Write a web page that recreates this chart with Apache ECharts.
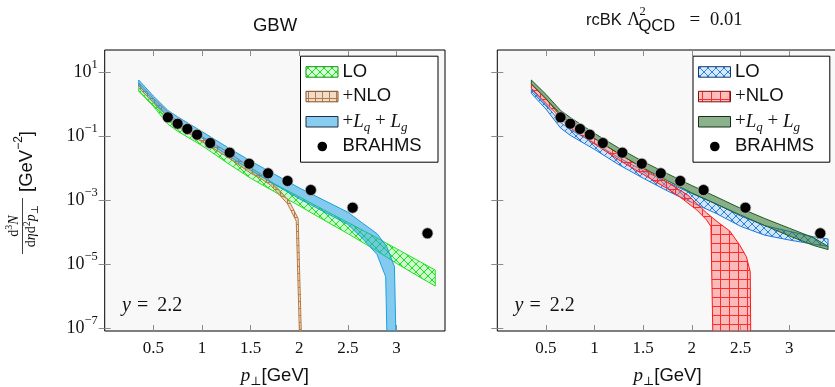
<!DOCTYPE html>
<html>
<head>
<meta charset="utf-8">
<script src="https://cdn.jsdelivr.net/npm/echarts@6/dist/echarts.min.js"></script>
<style>
html,body{margin:0;padding:0;background:#fff}
#chart{width:835px;height:387px}
</style>
</head>
<body>
<div id="chart"></div>
<script>
// ---- BRAHMS data points (same in both panels) ----
const brahmsPt = [0.65, 0.75, 0.85, 0.95, 1.085, 1.285, 1.485, 1.68, 1.88, 2.12, 2.55, 3.32];
const brahmsYield = [0.384, 0.242, 0.166, 0.110, 0.0604, 0.0301, 0.0136, 0.00682, 0.00393, 0.00205, 5.74e-4, 9.1e-5];

// ---- GBW bands ----
const gbwLoPt = [0.35, 0.5, 0.65, 0.75, 1.0, 1.25, 1.5, 1.75, 2.0, 2.25, 2.5, 2.75, 3.0, 3.25, 3.4];
const gbwLoUpper = [3.16, 1.12, 3.16e-1, 1.91e-1, 7.08e-2, 2.34e-2, 7.94e-3, 3.16e-3, 1.26e-3, 5.01e-4, 2.0e-4, 7.94e-5, 3.02e-5, 1.15e-5, 6.46e-6];
const gbwLoLower = [2.51, 8.51e-1, 2.34e-1, 1.41e-1, 5.01e-2, 1.51e-2, 4.79e-3, 1.78e-3, 6.61e-4, 2.40e-4, 8.91e-5, 3.16e-5, 1.05e-5, 3.72e-6, 2.04e-6];

const gbwNloUpperPt = [0.35, 0.5, 0.75, 1.0, 1.25, 1.5, 1.6, 1.7, 1.8, 1.9, 1.99, 2.03];
const gbwNloUpper = [4.57, 1.51, 2.82e-1, 9.55e-2, 3.39e-2, 1.05e-2, 6.61e-3, 3.98e-3, 2.0e-3, 8.91e-4, 2.63e-4, 1e-8];
const gbwNloLowerPt = [0.35, 0.5, 0.75, 1.0, 1.25, 1.5, 1.6, 1.7, 1.8, 1.88, 1.97, 2.01];
const gbwNloLower = [3.31, 1.10, 2.0e-1, 6.61e-2, 2.34e-2, 6.92e-3, 4.79e-3, 3.02e-3, 1.41e-3, 7.59e-4, 2.19e-4, 1e-8];

const gbwLqUpperPt = [0.35, 0.5, 0.65, 0.75, 1.0, 1.25, 1.5, 1.75, 2.0, 2.25, 2.5, 2.65, 2.8, 2.9, 2.98, 3.0];
const gbwLqUpper = [5.62, 1.78, 6.31e-1, 3.98e-1, 1.38e-1, 4.68e-2, 1.66e-2, 6.31e-3, 2.40e-3, 1.0e-3, 4.17e-4, 1.91e-4, 8.91e-5, 3.55e-5, 8.32e-6, 1e-8];
const gbwLqLowerPt = [0.35, 0.5, 0.65, 0.75, 1.0, 1.25, 1.5, 1.75, 2.0, 2.25, 2.5, 2.65, 2.8, 2.89, 2.908];
const gbwLqLower = [3.80, 1.26, 3.98e-1, 2.51e-1, 8.71e-2, 2.63e-2, 8.71e-3, 3.02e-3, 1.10e-3, 4.37e-4, 1.74e-4, 6.31e-5, 2.0e-5, 3.98e-6, 1e-8];

// ---- rcBK bands ----
const bkLoPt = [0.35, 0.5, 0.65, 0.75, 1.0, 1.25, 1.5, 1.75, 2.0, 2.25, 2.5, 2.75, 3.0, 3.25, 3.4];
const bkLoUpper = [2.88, 9.55e-1, 2.63e-1, 1.58e-1, 6.03e-2, 2.09e-2, 8.32e-3, 3.55e-3, 1.58e-3, 7.59e-4, 3.16e-4, 1.58e-4, 1.05e-4, 7.08e-5, 6.03e-5];
const bkLoLower = [2.14, 6.92e-1, 1.78e-1, 1.05e-1, 3.80e-2, 1.26e-2, 4.79e-3, 1.91e-3, 8.32e-4, 3.80e-4, 1.51e-4, 7.94e-5, 5.62e-5, 4.17e-5, 3.55e-5];

const bkNloUpperPt = [0.35, 0.5, 0.75, 1.0, 1.25, 1.5, 1.75, 1.96, 2.15, 2.27, 2.39, 2.49, 2.56, 2.60, 2.607];
const bkNloUpper = [4.17, 1.41, 2.51e-1, 8.32e-2, 2.82e-2, 9.55e-3, 3.55e-3, 1.41e-3, 3.98e-4, 2.0e-4, 1.07e-4, 3.98e-5, 1.70e-5, 5.75e-6, 1e-8];
const bkNloLowerPt = [0.35, 0.5, 0.75, 1.0, 1.25, 1.5, 1.75, 1.875, 2.05, 2.15, 2.196, 2.22];
const bkNloLower = [3.09, 1.05, 1.78e-1, 5.62e-2, 1.78e-2, 6.31e-3, 2.24e-3, 1.26e-3, 4.90e-4, 2.40e-4, 1.48e-4, 1e-8];

const bkLqPt = [0.35, 0.5, 0.65, 0.75, 1.0, 1.25, 1.5, 1.75, 2.0, 2.25, 2.5, 2.75, 3.0, 3.25, 3.4];
const bkLqUpper = [5.62, 2.0, 6.31e-1, 3.80e-1, 1.20e-1, 4.17e-2, 1.58e-2, 6.61e-3, 2.82e-3, 1.26e-3, 5.50e-4, 2.63e-4, 1.32e-4, 6.61e-5, 3.55e-5];
const bkLqLower = [4.27, 1.48, 4.17e-1, 2.63e-1, 8.32e-2, 2.75e-2, 1.0e-2, 3.98e-3, 1.66e-3, 7.41e-4, 3.39e-4, 1.58e-4, 7.59e-5, 3.80e-5, 2.82e-5];

// ---- axis ticks ----
const xTicks = [0.5, 1, 1.5, 2, 2.5, 3];
const yTicks = [1e-7, 1e-5, 1e-3, 1e-1, 1e1];

const SERIF = "'Liberation Serif','DejaVu Serif',serif";
const SANS = "'Liberation Sans','DejaVu Sans',sans-serif";
const INK = '#111';

const Y_MIN = Math.pow(10, -7.094);
const Y_MAX = Math.pow(10, 1.6875);

// ---- fill patterns ----
function tile(size, bg, line, kind) {
  const c = document.createElement('canvas');
  c.width = c.height = size;
  const g = c.getContext('2d');
  g.fillStyle = bg;
  g.fillRect(0, 0, size, size);
  g.strokeStyle = line;
  g.lineWidth = 1;
  g.beginPath();
  if (kind === 'cross') {
    g.moveTo(0, 0); g.lineTo(size, size);
    g.moveTo(0, size); g.lineTo(size, 0);
  } else {
    g.moveTo(0.5, 0); g.lineTo(0.5, size);
    g.moveTo(0, 0.5); g.lineTo(size, 0.5);
  }
  g.stroke();
  return { image: c, repeat: 'repeat' };
}

const STY = {
  gbwLo:  { fill: tile(8, 'rgba(60,255,60,0.22)', '#22e022', 'cross'), stroke: '#22e022', key: '#109010' },
  gbwNlo: { fill: tile(7, 'rgba(225,185,145,0.5)', '#b87a45', 'grid'), stroke: '#b87a45', key: '#7a5530' },
  gbwLq:  { fill: 'rgba(25,160,228,0.52)', stroke: '#1aa0e0', key: '#1f2f3f' },
  bkLo:   { fill: tile(8, 'rgba(90,170,255,0.25)', '#2a80dc', 'cross'), stroke: '#1f78d8', key: '#163a66' },
  bkNlo:  { fill: tile(9, 'rgba(255,110,110,0.45)', '#ff2a2a', 'grid'), stroke: '#ff1a1a', key: '#7a1010' },
  bkLq:   { fill: 'rgba(45,115,45,0.55)', stroke: '#1b5e20', key: '#14301a' }
};

function polygonPoints(upX, up, lowX, low) {
  const pts = upX.map((x, i) => [x, up[i]]);
  for (let i = lowX.length - 1; i >= 0; i--) pts.push([lowX[i], low[i]]);
  return pts;
}

function bandSeries(name, g, pts, sty, z) {
  return {
    type: 'custom', name: name,
    xAxisIndex: g * 2, yAxisIndex: g * 2,
    data: pts, z: z, silent: true,
    renderItem: function (params, api) {
      if (params.dataIndex !== 0) return null;
      const cs = params.coordSys;
      const p = pts.map(q => api.coord(q));
      return {
        type: 'polygon',
        shape: { points: p },
        style: { fill: sty.fill, stroke: sty.stroke, lineWidth: 1 },
        clipPath: { type: 'rect', shape: { x: cs.x, y: cs.y, width: cs.width, height: cs.height } }
      };
    }
  };
}

function scatterSeries(g) {
  return {
    type: 'scatter', xAxisIndex: g * 2, yAxisIndex: g * 2,
    data: brahmsPt.map((x, i) => [x, brahmsYield[i]]),
    symbolSize: 11, z: 10, silent: true,
    itemStyle: { color: '#000', opacity: 1, borderColor: 'rgba(190,190,190,0.9)', borderWidth: 0.8 }
  };
}

const tickStyle = { inside: true, length: 6, lineStyle: { color: '#8c8c8c', width: 1 } };

function supText(v) {
  const e = Math.round(Math.log10(v));
  return '{b|10}{e|' + (e < 0 ? '\u2212' + (-e) : String(e)) + '}';
}

const grids = [
  { left: 104.7, top: 50, width: 340.3, height: 281 },
  { left: 497.3, top: 50, width: 340.5, height: 281 }
].map(g => Object.assign(g, {
  show: true, backgroundColor: '#f8f8f8', borderColor: '#000', borderWidth: 1,
  containLabel: false, outerBoundsMode: 'none'
}));

const xAxes = [], yAxes = [];
[0, 1].forEach(g => {
  xAxes.push({
    gridIndex: g, type: 'value', min: 0, max: 3.5, position: 'bottom',
    axisLine: { show: false }, splitLine: { show: false },
    axisTick: Object.assign({ customValues: xTicks }, tickStyle),
    axisLabel: { customValues: xTicks, margin: 9, fontFamily: SERIF, fontSize: 17, color: INK },
    name: '{i|p}{sb|\u22a5}{s|[GeV]}', nameLocation: 'middle', nameGap: 33,
    nameTextStyle: {
      rich: {
        i: { fontFamily: SERIF, fontStyle: 'italic', fontSize: 19, color: INK, lineHeight: 24, verticalAlign: 'middle' },
        sb: { fontFamily: SERIF, fontSize: 12, color: INK, verticalAlign: 'bottom' },
        s: { fontFamily: SANS, fontSize: 18.5, color: INK, lineHeight: 24, verticalAlign: 'middle' }
      }
    }
  });
  xAxes.push({
    gridIndex: g, type: 'value', min: 0, max: 3.5, position: 'top',
    axisLine: { show: false }, splitLine: { show: false },
    axisTick: Object.assign({ customValues: xTicks }, tickStyle),
    axisLabel: { show: false }
  });
  yAxes.push({
    gridIndex: g, type: 'log', logBase: 10, min: Y_MIN, max: Y_MAX, position: 'left',
    axisLine: { show: false }, splitLine: { show: false },
    axisTick: Object.assign({ customValues: yTicks }, tickStyle),
    axisLabel: {
      show: g === 0, customValues: yTicks, margin: 7, formatter: supText,
      rich: {
        b: { fontFamily: SERIF, fontSize: 18, color: INK, lineHeight: 28, verticalAlign: 'middle' },
        e: { fontFamily: SERIF, fontSize: 12.5, color: INK, verticalAlign: 'top' }
      }
    }
  });
  yAxes.push({
    gridIndex: g, type: 'log', logBase: 10, min: Y_MIN, max: Y_MAX, position: 'right',
    axisLine: { show: false }, splitLine: { show: false },
    axisTick: Object.assign({ customValues: yTicks }, tickStyle),
    axisLabel: { show: false }
  });
});

const series = [
  bandSeries('LO', 0, polygonPoints(gbwLoPt, gbwLoUpper, gbwLoPt, gbwLoLower), STY.gbwLo, 2),
  bandSeries('+NLO', 0, polygonPoints(gbwNloUpperPt, gbwNloUpper, gbwNloLowerPt, gbwNloLower), STY.gbwNlo, 3),
  bandSeries('+Lq+Lg', 0, polygonPoints(gbwLqUpperPt, gbwLqUpper, gbwLqLowerPt, gbwLqLower), STY.gbwLq, 4),
  scatterSeries(0),
  bandSeries('LO', 1, polygonPoints(bkLoPt, bkLoUpper, bkLoPt, bkLoLower), STY.bkLo, 2),
  bandSeries('+NLO', 1, polygonPoints(bkNloUpperPt, bkNloUpper, bkNloLowerPt, bkNloLower), STY.bkNlo, 3),
  bandSeries('+Lq+Lg', 1, polygonPoints(bkLqPt, bkLqUpper, bkLqPt, bkLqLower), STY.bkLq, 4),
  scatterSeries(1)
];

// ---- rich text styles for drawn texts ----
const RICH = {
  s: { fontFamily: SANS, fontSize: 18.5, fill: INK, lineHeight: 26, verticalAlign: 'middle' },
  m: { fontFamily: SERIF, fontSize: 19, fill: INK, lineHeight: 26, verticalAlign: 'middle' },
  i: { fontFamily: SERIF, fontSize: 19, fontStyle: 'italic', fill: INK, lineHeight: 26, verticalAlign: 'middle' },
  sb: { fontFamily: SERIF, fontSize: 13, fontStyle: 'italic', fill: INK, verticalAlign: 'bottom' },
  sp: { fontFamily: SERIF, fontSize: 12, fill: INK, verticalAlign: 'top' }
};

const RAP = {
  i: { fontFamily: SERIF, fontSize: 20, fontStyle: 'italic', fill: INK, lineHeight: 26, verticalAlign: 'middle' },
  q: { fontFamily: SERIF, fontSize: 20, fill: INK, lineHeight: 26, verticalAlign: 'middle', padding: [0, 9, 0, 6] },
  m: { fontFamily: SERIF, fontSize: 20, fill: INK, lineHeight: 26, verticalAlign: 'middle' }
};

function legend(x0, y0, w, h, stys) {
  const rows = [71.7, 96.3, 121.5, 145.5];
  const labels = ['{s|LO}', '{m|+}{s|NLO}', '{m|+}{i|L}{sb|q}{m| + }{i|L}{sb|g}', '{s|BRAHMS}'];
  const els = [{
    type: 'rect', z: 100,
    shape: { x: x0 + 0.5, y: y0 + 0.5, width: w, height: h },
    style: { fill: '#fff', stroke: '#000', lineWidth: 1 }
  }];
  stys.forEach((st, k) => {
    els.push({
      type: 'rect', z: 101,
      shape: { x: x0 + 6, y: rows[k] - 5, width: 32, height: 10.5 },
      style: { fill: st.fill, stroke: st.key, lineWidth: 1 }
    });
  });
  els.push({ type: 'circle', z: 101, shape: { cx: x0 + 22.3, cy: rows[3] + 1, r: 4.8 }, style: { fill: '#000' } });
  labels.forEach((t, k) => {
    els.push({
      type: 'text', z: 102, x: x0 + 42.5, y: rows[k],
      style: { text: t, rich: RICH, align: 'left', verticalAlign: 'middle' }
    });
  });
  return els;
}

const graphics = [
  // panel titles
  { type: 'text', x: 275, y: 25.5, style: { text: 'GBW', fontFamily: SANS, fontSize: 18.5, fill: INK, align: 'center', verticalAlign: 'middle' } },
  { type: 'text', x: 586, y: 20, style: { text: 'rcBK', fontFamily: SANS, fontSize: 16.5, fill: INK, align: 'left', verticalAlign: 'middle' } },
  { type: 'text', x: 627.3, y: 20, style: { text: '\u039b', fontFamily: SERIF, fontSize: 18, fill: INK, align: 'left', verticalAlign: 'middle' } },
  { type: 'text', x: 639.5, y: 11.7, style: { text: '2', fontFamily: SERIF, fontSize: 12.5, fill: INK, align: 'left', verticalAlign: 'middle' } },
  { type: 'text', x: 638.5, y: 26, style: { text: 'QCD', fontFamily: SANS, fontSize: 16.5, fill: INK, align: 'left', verticalAlign: 'middle' } },
  { type: 'text', x: 689.5, y: 20, style: { text: '=', fontFamily: SERIF, fontSize: 19, fill: INK, align: 'left', verticalAlign: 'middle' } },
  { type: 'text', x: 710, y: 20, style: { text: '0.01', fontFamily: SERIF, fontSize: 18.5, fill: INK, align: 'left', verticalAlign: 'middle' } },
  // rapidity labels
  { type: 'text', x: 122, y: 306, z: 50, style: { text: '{i|y}{q|=}{m|2.2}', rich: RAP, align: 'left', verticalAlign: 'middle' } },
  { type: 'text', x: 514.5, y: 306, z: 50, style: { text: '{i|y}{q|=}{m|2.2}', rich: RAP, align: 'left', verticalAlign: 'middle' } },
  // y-axis title
  {
    type: 'group', x: 27, y: 191, rotation: Math.PI / 2,
    children: [
      { type: 'text', x: -35, y: -12.5, style: { text: '{r|d}{p|3}{n|N}', align: 'center', verticalAlign: 'middle',
        rich: { r: { fontFamily: SERIF, fontSize: 14, fill: INK, lineHeight: 20 }, n: { fontFamily: SERIF, fontSize: 14, fontStyle: 'italic', fill: INK, lineHeight: 20 }, p: { fontFamily: SERIF, fontSize: 10, fill: INK, verticalAlign: 'top' } } } },
      { type: 'line', shape: { x1: -63, y1: -4.5, x2: -7, y2: -4.5 }, style: { stroke: INK, lineWidth: 0.8 } },
      { type: 'text', x: -35, y: 4, style: { text: '{r|d}{n|\u03b7}{r|d}{p|2}{n|p}{b|\u22a5}', align: 'center', verticalAlign: 'middle',
        rich: { r: { fontFamily: SERIF, fontSize: 14, fill: INK, lineHeight: 18 }, n: { fontFamily: SERIF, fontSize: 14, fontStyle: 'italic', fill: INK, lineHeight: 18 }, p: { fontFamily: SERIF, fontSize: 10, fill: INK, verticalAlign: 'top' }, b: { fontFamily: SERIF, fontSize: 10, fill: INK, verticalAlign: 'bottom' } } } },
      { type: 'text', x: 29.5, y: -0.5, style: { text: '{s|[GeV}{p|\u22122}{s|]}', align: 'center', verticalAlign: 'middle',
        rich: { s: { fontFamily: SANS, fontSize: 18.5, fill: INK, lineHeight: 28 }, p: { fontFamily: SANS, fontSize: 12, fill: INK, verticalAlign: 'top' } } } }
    ]
  }
].concat(
  legend(300, 55.7, 137.5, 106, [STY.gbwLo, STY.gbwNlo, STY.gbwLq]),
  legend(692.5, 55.7, 136.8, 106, [STY.bkLo, STY.bkNlo, STY.bkLq])
);

const chart = echarts.init(document.getElementById('chart'), null, { renderer: 'canvas' });
chart.setOption({
  animation: false,
  backgroundColor: '#fff',
  grid: grids,
  xAxis: xAxes,
  yAxis: yAxes,
  series: series,
  graphic: graphics
});
</script>
</body>
</html>
